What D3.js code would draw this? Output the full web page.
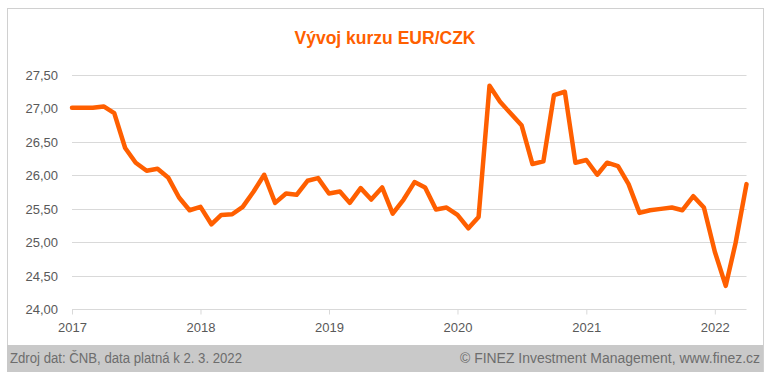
<!DOCTYPE html>
<html>
<head>
<meta charset="utf-8">
<script src="https://cdn.jsdelivr.net/npm/d3@7"></script>
<style>
  body { margin: 0; background: #fff; overflow: hidden; }
  text { font-family: "Liberation Sans", Arial, sans-serif; }
</style>
</head>
<body>
<script>
// month-end EUR/CZK rate, Jan 2017 .. Apr 2022
const startMonth = "2017-01";
const rates2017 = [27.01, 27.01, 27.01, 27.03, 26.93, 26.41, 26.19, 26.07, 26.10, 25.97, 25.67, 25.48];
const rates2018 = [25.53, 25.27, 25.41, 25.42, 25.53, 25.76, 26.01, 25.59, 25.73, 25.71, 25.92, 25.96];
const rates2019 = [25.73, 25.76, 25.59, 25.81, 25.64, 25.82, 25.43, 25.64, 25.90, 25.82, 25.49, 25.52];
const rates2020 = [25.41, 25.21, 25.38, 27.34, 27.10, 26.92, 26.75, 26.17, 26.21, 27.20, 27.25, 26.19];
const rates2021 = [26.23, 26.01, 26.19, 26.14, 25.87, 25.44, 25.48, 25.50, 25.52, 25.48, 25.69, 25.52];
const rates2022 = [24.86, 24.35, 24.99, 25.87];

const yTicks = [24, 24.5, 25, 25.5, 26, 26.5, 27, 27.5];
const xTickYears = [2017, 2018, 2019, 2020, 2021, 2022];

const titleText = "Vývoj kurzu EUR/CZK";
const sourceText = "Zdroj dat: ČNB, data platná k 2. 3. 2022";
const copyText = "© FINEZ Investment Management, www.finez.cz";

const orange = "#ff5f00";
const W = 772, H = 378;

const values = [].concat(rates2017, rates2018, rates2019, rates2020, rates2021, rates2022);
const parseMonth = d3.timeParse("%Y-%m");
const t0 = parseMonth(startMonth);
const data = values.map((v, i) => ({date: d3.timeMonth.offset(t0, i), value: v}));

const svg = d3.select("body").append("svg")
    .attr("width", W)
    .attr("height", H);

// outer frame
svg.append("rect")
    .attr("x", 7.5).attr("y", 8.5)
    .attr("width", 756).attr("height", 363)
    .attr("fill", "#fff")
    .attr("stroke", "#d0d0d0");

const xScale = d3.scaleTime()
    .domain([t0, d3.timeMonth.offset(t0, values.length - 1)])
    .range([72, 746.5]);

const yScale = d3.scaleLinear()
    .domain([24, 27.5])
    .range([309.3, 75]);

const fmt = d3.format(".2f");

// gridlines
svg.append("g")
    .attr("class", "grid")
    .selectAll("line")
    .data(yTicks.slice(1))
    .join("line")
    .attr("x1", 72).attr("x2", 746.5)
    .attr("y1", (d) => Math.round(yScale(d)) + 0.5)
    .attr("y2", (d) => Math.round(yScale(d)) + 0.5)
    .attr("stroke", "#d9d9d9");

// y axis labels
const yAxis = d3.axisLeft(yScale)
    .tickValues(yTicks)
    .tickSize(0)
    .tickPadding(14)
    .tickFormat((d) => fmt(d).replace(".", ","));

svg.append("g")
    .attr("class", "yaxis")
    .attr("transform", "translate(72,0)")
    .call(yAxis)
    .call((g) => g.select(".domain").remove())
    .selectAll("text")
    .style("font-size", "13px")
    .attr("fill", "#595959");

// x axis
const xAxis = d3.axisBottom(xScale)
    .tickValues(xTickYears.map((y) => new Date(y, 0, 1)))
    .tickSize(5)
    .tickPadding(8)
    .tickFormat(d3.timeFormat("%Y"));

svg.append("g")
    .attr("class", "xaxis")
    .attr("transform", "translate(0," + (Math.round(yScale(24)) + 0.5) + ")")
    .call(xAxis)
    .call((g) => g.select(".domain").attr("stroke", "#d9d9d9").attr("d", "M72,0H746.5"))
    .call((g) => g.selectAll(".tick line").attr("stroke", "#d9d9d9"))
    .selectAll("text")
    .style("font-size", "13px")
    .attr("fill", "#595959");

// rate line
const line = d3.line()
    .x((d) => xScale(d.date))
    .y((d) => yScale(d.value));

svg.append("path")
    .datum(data)
    .attr("fill", "none")
    .attr("stroke", orange)
    .attr("stroke-width", 4.5)
    .attr("stroke-linejoin", "round")
    .attr("stroke-linecap", "round")
    .attr("d", line);

// title
svg.append("text")
    .attr("x", 385)
    .attr("y", 44)
    .attr("text-anchor", "middle")
    .attr("textLength", 181)
    .attr("lengthAdjust", "spacingAndGlyphs")
    .style("font-size", "19px")
    .style("font-weight", "bold")
    .attr("fill", orange)
    .text(titleText);

// footer band
svg.append("rect")
    .attr("x", 7).attr("y", 345)
    .attr("width", 756).attr("height", 27)
    .attr("fill", "#c9c9c9");

svg.append("text")
    .attr("x", 10)
    .attr("y", 363)
    .attr("textLength", 232)
    .attr("lengthAdjust", "spacingAndGlyphs")
    .style("font-size", "14px")
    .attr("fill", "#6d6d6d")
    .text(sourceText);

svg.append("text")
    .attr("x", 760)
    .attr("y", 363)
    .attr("text-anchor", "end")
    .attr("textLength", 300)
    .attr("lengthAdjust", "spacingAndGlyphs")
    .style("font-size", "14px")
    .attr("fill", "#6d6d6d")
    .text(copyText);
</script>
</body>
</html>
